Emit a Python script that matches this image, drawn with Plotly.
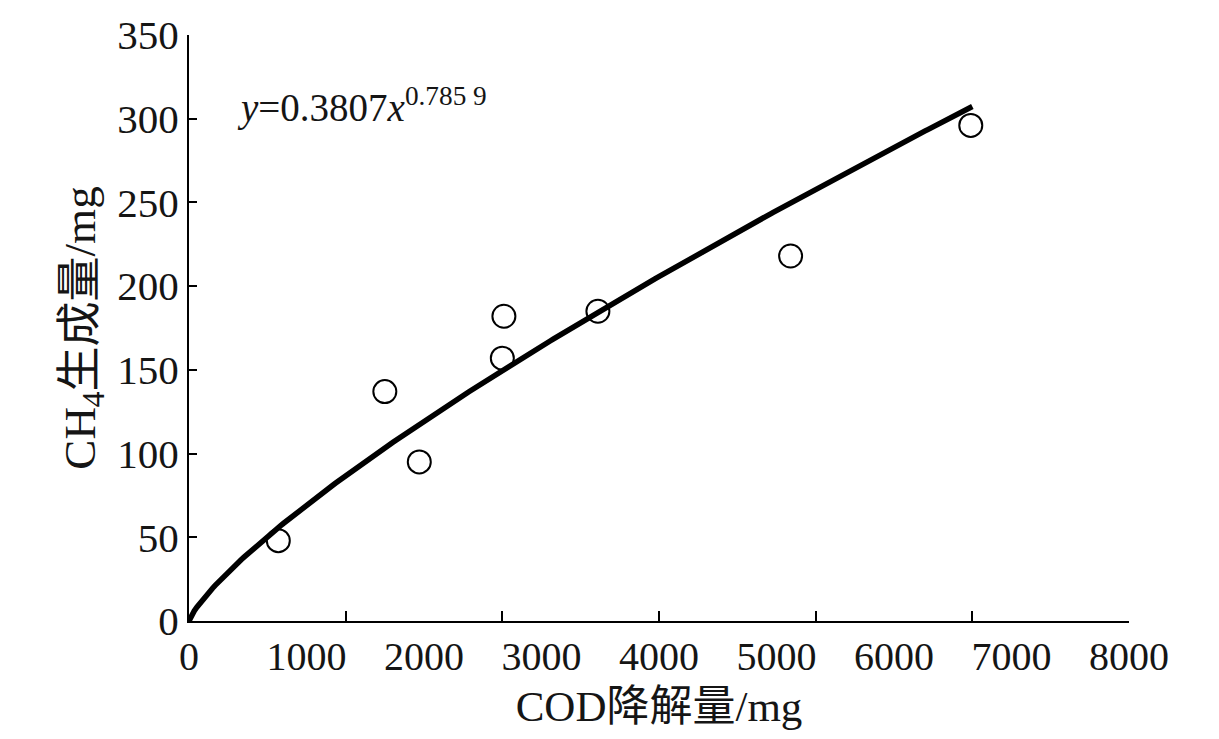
import numpy as np
import plotly.graph_objects as go

# Observed data (x in the axis' true scale, where tick marks are every 1000)
cod_removed = [570, 1250, 1470, 2000, 2010, 2610, 3840, 4990]
ch4_produced = [48, 137, 95, 157, 182, 185, 218, 296]

# Fitted power curve y = a * x^b
fit_a = 0.3807
fit_b = 0.7859
fit_x_max = 5000

# Axis tick labels as printed on the figure
x_tick_labels = [0, 1000, 2000, 3000, 4000, 5000, 6000, 7000, 8000]
x_tick_marks = [0, 1000, 2000, 3000, 4000, 5000, 6000]
y_ticks = [0, 50, 100, 150, 200, 250, 300, 350]

fit_x = np.linspace(0, fit_x_max, 300)
fit_y = fit_a * fit_x ** fit_b

FONT = "Liberation Serif, Times New Roman, Noto Sans CJK SC, serif"
INK = "#151515"

fig = go.Figure()
fig.add_trace(go.Scatter(x=fit_x, y=fit_y, mode="lines",
                         line=dict(color="black", width=5.5),
                         showlegend=False, hoverinfo="skip"))
fig.add_trace(go.Scatter(x=cod_removed, y=ch4_produced, mode="markers",
                         marker=dict(symbol="circle-open", size=23,
                                     color="black", line=dict(width=2)),
                         showlegend=False))
# invisible trace to carry the printed label axis
fig.add_trace(go.Scatter(x=[x_tick_labels[0], x_tick_labels[-1]], y=[0, 0],
                         xaxis="x2", yaxis="y", mode="markers",
                         marker=dict(opacity=0), showlegend=False,
                         hoverinfo="skip"))

fig.update_layout(
    width=1219, height=739,
    margin=dict(l=189, r=90, t=32, b=118),
    paper_bgcolor="white", plot_bgcolor="white",
    font=dict(family=FONT, color=INK, size=40),
    xaxis=dict(range=[0, x_tick_marks[-1]], tickvals=x_tick_marks,
               showticklabels=False, ticks="inside", ticklen=10,
               tickwidth=2, tickcolor="black",
               showline=True, linecolor="black", linewidth=2,
               showgrid=False, zeroline=False,
               title=dict(text="COD降解量/mg", standoff=69,
                          font=dict(size=43))),
    xaxis2=dict(range=[x_tick_labels[0], x_tick_labels[-1]],
                overlaying="x", anchor="y", side="bottom",
                tickvals=x_tick_labels, ticktext=[str(v) for v in x_tick_labels],
                ticks="", showline=False, showgrid=False, zeroline=False,
                ticklabelstandoff=8,
                tickfont=dict(size=40)),
    yaxis=dict(range=[0, 350], tickvals=y_ticks,
               ticks="inside", ticklen=8, tickwidth=2, tickcolor="black",
               showline=True, linecolor="black", linewidth=2,
               showgrid=False, zeroline=False,
               tickfont=dict(size=41),
               title=dict(text="CH<sub>4</sub>生成量/mg", standoff=8,
                          font=dict(size=45))),
    annotations=[dict(
        xref="paper", yref="paper",
        x=(235 - 189) / 940, y=(621 - 103) / 589,
        xanchor="left", yanchor="middle", showarrow=False,
        text="<i>y</i>=0.3807<i>x</i><sup>0.785 9</sup>",
        font=dict(size=39, family=FONT, color=INK))],
)

fig.write_html("out.html")
